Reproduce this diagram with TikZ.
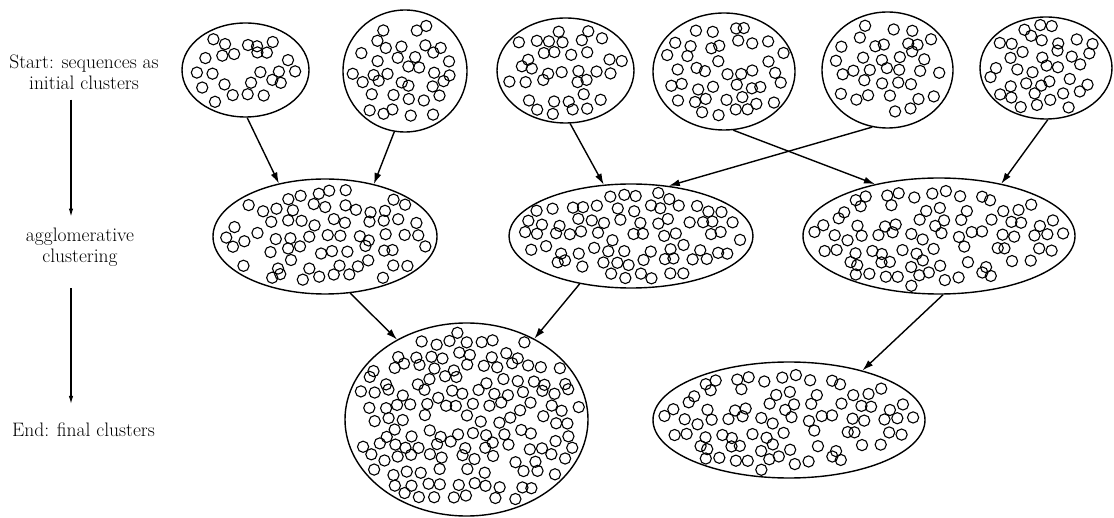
\documentclass[tikz,border=0pt]{standalone}
\usepackage{fontspec}
\usetikzlibrary{shapes.geometric,arrows.meta}

% Scatter small circles on a jittered hexagonal grid inside an ellipse.
% #1 cx, #2 cy, #3 rx, #4 ry, #5 grid spacing, #6 keep probability, #7 seed
\newcommand\dotcloud[7]{%
  \pgfmathsetseed{#7}%
  \pgfmathtruncatemacro\nxx{ceil(#3/#5)+1}%
  \pgfmathtruncatemacro\nxxneg{-\nxx}%
  \pgfmathtruncatemacro\nyy{ceil(#4/(0.866*#5))+1}%
  \pgfmathtruncatemacro\nyyneg{-\nyy}%
  \foreach \j in {\nyyneg,...,\nyy}{%
    \foreach \i in {\nxxneg,...,\nxx}{%
      \pgfmathsetmacro\px{(\i+0.5*mod(abs(\j),2))*#5+0.3*#5*rand}%
      \pgfmathsetmacro\py{\j*0.866*#5+0.3*#5*rand}%
      \pgfmathtruncatemacro\ok{(((\px/(#3-7))^2+(\py/(#4-7))^2)<1)&&(rnd<#6)}%
      \ifnum\ok=1 \draw[seq] (#1+\px,#2+\py) circle[radius=5.6];\fi
    }}%
}

\begin{document}
\begin{tikzpicture}[x=1pt,y=-1pt,
  clus/.style={draw, ellipse, line width=1.4pt, inner sep=0pt},
  seq/.style={draw, line width=1.1pt},
  link/.style={line width=1.4pt, -{Latex[length=11pt,width=7pt]}},
  flow/.style={line width=1.1pt, -{Latex[length=8pt,width=4.5pt]}},
  lbl/.style={align=center, inner sep=0pt, font=\fontsize{19.5}{21}\selectfont}]

\fill[white] (0,0) rectangle (1114,518);
\useasboundingbox (0,0) rectangle (1114,518);

% stage labels on the left
\node[lbl] (t1) at (84,72) {Start: sequences as\\initial clusters};
\node[lbl] (t2) at (80,247) {agglomerative\\clustering};
\node[lbl] (t3) at (83.5,430) {End: final clusters};
\coordinate (ax) at (71,0);
\draw[flow, shorten <=10pt, shorten >=11pt] (t1.south -| ax) -- (t2.north -| ax);
\draw[flow, shorten <=22pt, shorten >=19pt] (t2.south -| ax) -- (t3.north -| ax);

% initial clusters
\node[clus, minimum width=127pt, minimum height=94pt]  (E1) at (245.5,70) {};
\node[clus, minimum width=124pt, minimum height=122pt] (E2) at (405,71) {};
\node[clus, minimum width=137pt, minimum height=105pt] (E3) at (565.5,70.5) {};
\node[clus, minimum width=142pt, minimum height=117pt] (E4) at (724,71.5) {};
\node[clus, minimum width=131pt, minimum height=116pt] (E5) at (887.5,70) {};
\node[clus, minimum width=132pt, minimum height=102pt] (E6) at (1046,68) {};

% merged clusters
\node[clus, minimum width=224pt, minimum height=115pt] (M1) at (325,236.5) {};
\node[clus, minimum width=244pt, minimum height=104pt] (M2) at (631,236) {};
\node[clus, minimum width=272pt, minimum height=116pt] (M3) at (939,236) {};

% final clusters
\node[clus, minimum width=243pt, minimum height=193pt] (F1) at (466.5,419.5) {};
\node[clus, minimum width=272pt, minimum height=116pt] (F2) at (789,420) {};

% sequences inside each cluster
\dotcloud{245.5}{70}{63.5}{47}{16}{0.85}{11}
\dotcloud{405}{71}{62}{61}{16}{0.97}{12}
\dotcloud{565.5}{70.5}{68.5}{52.5}{16}{0.95}{13}
\dotcloud{724}{71.5}{71}{58.5}{16}{0.88}{14}
\dotcloud{887.5}{70}{65.5}{58}{16}{0.8}{15}
\dotcloud{1046}{68}{66}{51}{16}{0.95}{16}
\dotcloud{325}{236.5}{112}{57.5}{16}{0.92}{21}
\dotcloud{631}{236}{122}{52}{15.5}{0.98}{22}
\dotcloud{939}{236}{136}{58}{15.5}{0.92}{24}
\dotcloud{466.5}{419.5}{121.5}{96.5}{15}{0.92}{31}
\dotcloud{789}{420}{136}{58}{15.5}{0.92}{24}

% merges
\draw[link] (E1.-88) -- (M1.131);
\draw[link] (E2.-100) -- (M1.47);
\draw[link] (E3.-85) -- (M2.118);
\draw[link] (E5.-105) -- (M2.53.5);
\draw[link] (E4.-81) -- (M3.141);
\draw[link] (E6.-88) -- (M3.40);
\draw[link] (M1.-66) -- (F1.131);
\draw[link] (M2.-137) -- (F1.50);
\draw[link] (M3.-86) -- (F2.34);
\end{tikzpicture}
\end{document}
